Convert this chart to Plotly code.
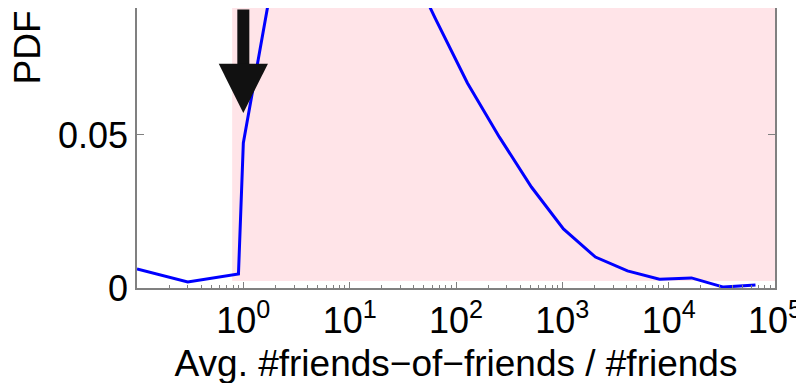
import numpy as np
import plotly.graph_objects as go

# ---- data ----
ratio = [0.1, 0.3, 0.9, 1, 2, 4, 8, 16, 32, 64, 128, 256, 512, 1024,
         2048, 4096, 8192, 16384, 32768, 65536]
pdf = [0.0062, 0.0020, 0.0046, 0.0474, 0.106, 0.130, 0.145, 0.135, 0.110,
       0.088, 0.0670, 0.0493, 0.0330, 0.0193, 0.0101, 0.0056, 0.0029,
       0.0033, 0.0003, 0.0010]

x_ticks = [1, 10, 100, 1000, 10000, 100000]
x_ticktext = ["10<sup>0</sup>", "10<sup>1</sup>", "10<sup>2</sup>",
              "10<sup>3</sup>", "10<sup>4</sup>", "10<sup>5</sup>"]
y_ticks = [0, 0.05]
y_ticktext = ["0", "0.05"]

shade_x = [0.785, 1e5]
shade_y = [0.0023, 0.0915]
arrow_x = 1.0
arrow_y = 0.0572

minor_vals = [k * 10.0 ** n for n in range(-1, 5) for k in range(2, 10)]

AX = "#808080"
FONT = "Liberation Sans, Arial, Helvetica, sans-serif"

fig = go.Figure()
fig.add_shape(type="rect", xref="x", yref="y",
              x0=shade_x[0], x1=shade_x[1], y0=shade_y[0], y1=shade_y[1],
              fillcolor="#ffe4e8", line=dict(width=0), layer="below")

fig.add_trace(go.Scatter(x=ratio, y=pdf, mode="lines",
                         line=dict(color="#0000ff", width=3),
                         showlegend=False))

fig.add_annotation(x=np.log10(arrow_x), y=arrow_y, xref="x", yref="y",
                   ax=0, ay=-140, text="", showarrow=True,
                   arrowhead=2, arrowwidth=12, arrowsize=0.82,
                   arrowcolor="#111111")

fig.add_annotation(text="PDF", xref="paper", yref="paper",
                   x=-0.172, y=0.86, xanchor="center", yanchor="middle",
                   textangle=-90, showarrow=False,
                   font=dict(size=37, color="black", family=FONT))

# page body adds an 8px offset: figure placed at (8, 8); it may overflow
# the window on the right/bottom, which is simply cropped.
W, H = 804, 383
fig.update_layout(
    width=W, height=H,
    margin=dict(l=129, r=W - 767, t=0, b=H - 280, autoexpand=False),
    paper_bgcolor="white", plot_bgcolor="white",
    font=dict(family=FONT, color="black", size=36),
    xaxis=dict(type="log", range=[-1, 5], tickmode="array",
               tickvals=x_ticks, ticktext=x_ticktext, automargin=False,
               ticklabeloverflow="allow",
               ticks="inside", ticklen=6, tickcolor=AX, tickwidth=1,
               showline=True, linecolor=AX, linewidth=1.5, mirror=False,
               showgrid=False, zeroline=False,
               tickfont=dict(size=36),
               minor=dict(tickmode="array", tickvals=minor_vals,
                          ticks="inside", ticklen=3, tickcolor=AX,
                          showgrid=False),
               title=dict(text="Avg. #friends\u2212of\u2212friends / #friends",
                          font=dict(size=37), standoff=10)),
    yaxis=dict(range=[0, 0.0915], tickmode="array",
               tickvals=y_ticks, ticktext=y_ticktext, automargin=False,
               ticks="inside", ticklen=7, tickcolor=AX, tickwidth=1,
               showline=True, linecolor=AX, linewidth=1.5, mirror="ticks",
               showgrid=False, zeroline=False,
               tickfont=dict(size=36)),
)

fig.write_html("out.html")
